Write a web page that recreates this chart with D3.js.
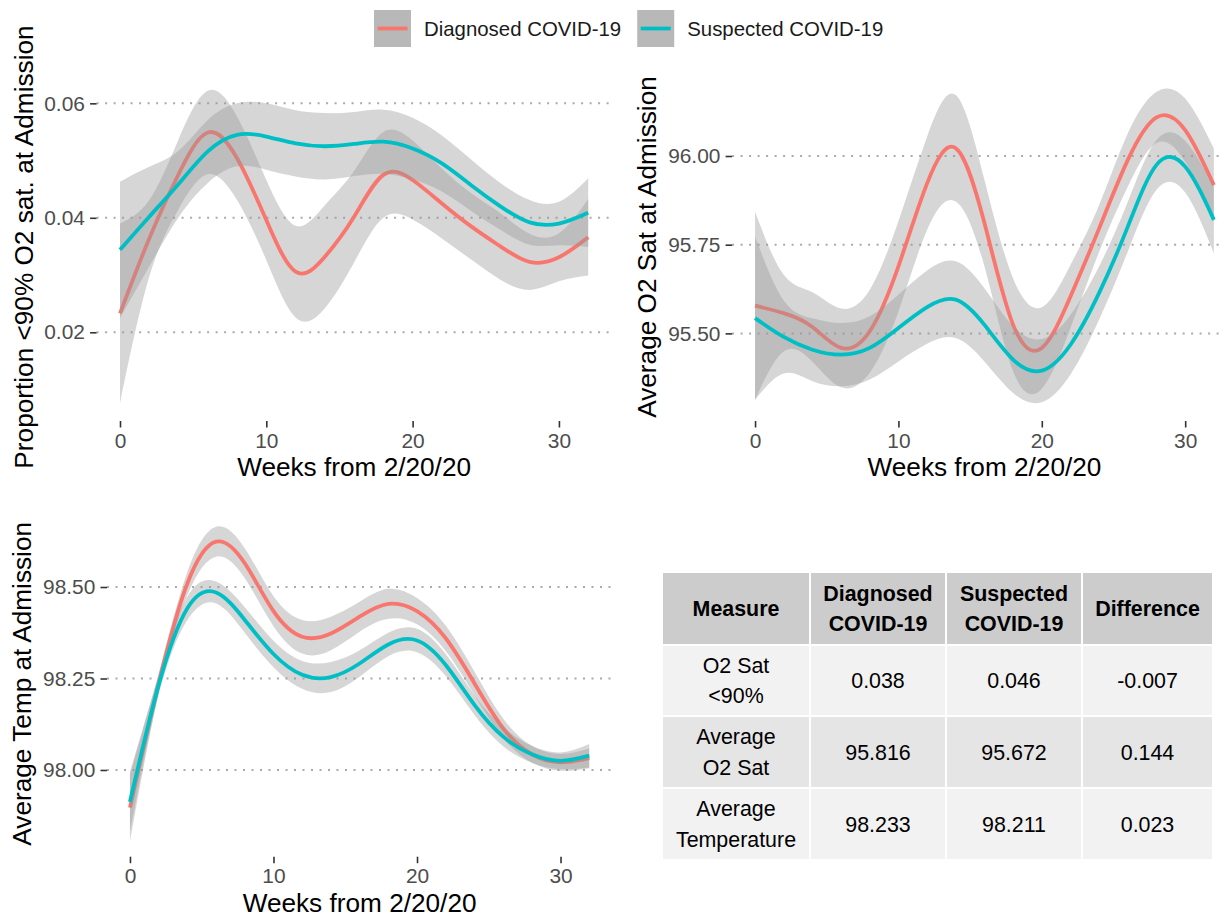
<!DOCTYPE html>
<html>
<head>
<meta charset="utf-8">
<script src="https://cdn.jsdelivr.net/npm/d3@7"></script>
<style>
  body { margin: 0; background: #fff; }
  svg { display: block; font-family: "Liberation Sans", Arial, sans-serif; }
</style>
</head>
<body>
<svg width="1225" height="922"></svg>
<script>
// ---- data (every 2 weeks) ----
var weeks = [0, 2, 4, 6, 8, 10, 12, 14, 16, 18, 20, 22, 24, 26, 28, 30, 32];
var groups = ["Diagnosed COVID-19", "Suspected COVID-19"];
var colors = ["#F8766D", "#00BFC4"];

// proportion <90% O2 sat
var lowO2Diagnosed   = [0.0233, 0.0364, 0.0476, 0.0549, 0.0504, 0.0396, 0.0306, 0.0332, 0.0402, 0.0475, 0.0466, 0.0425, 0.0385, 0.0350, 0.0323, 0.0331, 0.0366];
var lowO2DiagnosedCI = [0.0157, 0.0067, 0.0061, 0.0073, 0.0073, 0.0070, 0.0080, 0.0090, 0.0080, 0.0075, 0.0069, 0.0061, 0.0058, 0.0058, 0.0049, 0.0042, 0.0067];
var lowO2Suspected   = [0.0344, 0.0402, 0.0459, 0.0516, 0.0545, 0.0542, 0.0530, 0.0525, 0.0529, 0.0533, 0.0521, 0.0495, 0.0457, 0.0420, 0.0392, 0.0390, 0.0409];
var lowO2SuspectedCI = [0.0119, 0.0087, 0.0058, 0.0055, 0.0055, 0.0058, 0.0058, 0.0058, 0.0056, 0.0056, 0.0054, 0.0049, 0.0045, 0.0041, 0.0039, 0.0038, 0.0060];

// average O2 sat
var avgO2Diagnosed   = [95.578, 95.557, 95.518, 95.459, 95.506, 95.689, 95.923, 96.022, 95.811, 95.524, 95.459, 95.604, 95.796, 95.989, 96.109, 96.073, 95.918];
var avgO2DiagnosedCI = [0.265, 0.108, 0.098, 0.111, 0.117, 0.127, 0.131, 0.150, 0.122, 0.131, 0.115, 0.089, 0.066, 0.075, 0.072, 0.089, 0.103];
var avgO2Suspected   = [95.543, 95.490, 95.454, 95.440, 95.459, 95.515, 95.574, 95.595, 95.524, 95.426, 95.395, 95.468, 95.614, 95.801, 95.975, 95.970, 95.820];
var avgO2SuspectedCI = [0.230, 0.103, 0.089, 0.089, 0.089, 0.094, 0.103, 0.108, 0.103, 0.094, 0.089, 0.084, 0.075, 0.070, 0.070, 0.073, 0.094];

// average temperature
var tempDiagnosed   = [97.897, 98.237, 98.510, 98.624, 98.565, 98.434, 98.364, 98.373, 98.419, 98.454, 98.434, 98.360, 98.237, 98.114, 98.043, 98.021, 98.032];
var tempDiagnosedCI = [0.091, 0.027, 0.032, 0.041, 0.041, 0.041, 0.046, 0.046, 0.041, 0.041, 0.036, 0.035, 0.032, 0.027, 0.023, 0.023, 0.027];
var tempSuspected   = [97.913, 98.232, 98.442, 98.485, 98.410, 98.317, 98.260, 98.254, 98.291, 98.343, 98.354, 98.287, 98.178, 98.091, 98.043, 98.025, 98.039];
var tempSuspectedCI = [0.082, 0.027, 0.032, 0.030, 0.035, 0.036, 0.038, 0.041, 0.036, 0.032, 0.032, 0.030, 0.027, 0.026, 0.023, 0.023, 0.032];

var xTicks = [0, 10, 20, 30];
var lowO2Ticks = [0.02, 0.04, 0.06];
var avgO2Ticks = [95.50, 95.75, 96.00];
var tempTicks = [98.00, 98.25, 98.50];

// summary table
var tableColumns = ["Measure", "Diagnosed\nCOVID-19", "Suspected\nCOVID-19", "Difference"];
var tableMeasures = ["O2 Sat\n<90%", "Average\nO2 Sat", "Average\nTemperature"];
var tableDiagnosed = ["0.038", "95.816", "98.233"];
var tableSuspected = ["0.046", "95.672", "98.211"];
var tableDifference = ["-0.007", "0.144", "0.023"];

var svg = d3.select("svg");
var tickSize = 20.9, titleSize = 26.2;

var panels = [
  { xr: [96.6, 611.6], yr: [421, 73], yd: [0.0045, 0.0653], ticks: lowO2Ticks,
    series: [[lowO2Diagnosed, lowO2DiagnosedCI], [lowO2Suspected, lowO2SuspectedCI]],
    yTitle: "Proportion <90% O2 sat. at Admission", yTitleX: 32.5, xTitleY: 476 },
  { xr: [732.1, 1236.8], yr: [421, 73], yd: [95.253, 96.234], ticks: avgO2Ticks,
    series: [[avgO2Diagnosed, avgO2DiagnosedCI], [avgO2Suspected, avgO2SuspectedCI]],
    yTitle: "Average O2 Sat at Admission", yTitleX: 656, xTitleY: 476 },
  { xr: [107.0, 612.2], yr: [856.7, 510.9], yd: [97.763, 98.708], ticks: tempTicks,
    series: [[tempDiagnosed, tempDiagnosedCI], [tempSuspected, tempSuspectedCI]],
    yTitle: "Average Temp at Admission", yTitleX: 31, xTitleY: 912 }
];

panels.forEach(function (p) {
  var x = d3.scaleLinear().domain([-1.6, 33.6]).range(p.xr);
  var y = d3.scaleLinear().domain(p.yd).range(p.yr);
  var g = svg.append("g");

  // dotted horizontal grid
  g.selectAll(".grid")
    .data(p.ticks)
    .enter().append("line")
    .attr("x1", p.xr[0]).attr("x2", p.xr[1])
    .attr("y1", function (d) { return y(d); })
    .attr("y2", function (d) { return y(d); })
    .attr("stroke", "#a9a9a9")
    .attr("stroke-width", 2)
    .attr("stroke-dasharray", "2,6.5");

  // ribbon then line, group by group (like geom_smooth)
  p.series.forEach(function (s, i) {
    var pts = weeks.map(function (w, k) { return { w: w, m: s[0][k], ci: s[1][k] }; });
    var area = d3.area()
      .x(function (d) { return x(d.w); })
      .y0(function (d) { return y(d.m - d.ci); })
      .y1(function (d) { return y(d.m + d.ci); })
      .curve(d3.curveNatural);
    var line = d3.line()
      .x(function (d) { return x(d.w); })
      .y(function (d) { return y(d.m); })
      .curve(d3.curveNatural);
    g.append("path").datum(pts)
      .attr("d", area)
      .attr("fill", "#999999")
      .attr("fill-opacity", 0.4);
    g.append("path").datum(pts)
      .attr("d", line)
      .attr("fill", "none")
      .attr("stroke", colors[i])
      .attr("stroke-width", 3.8);
  });

  // axes
  var yAxis = d3.axisLeft(y).tickValues(p.ticks).tickFormat(d3.format(".2f"))
    .tickSize(6.5).tickPadding(5.2);
  var xAxis = d3.axisBottom(x).tickValues(xTicks).tickFormat(d3.format("d"))
    .tickSize(6.5).tickPadding(5.2);

  var ya = g.append("g").attr("transform", "translate(" + p.xr[0] + ",0)").call(yAxis);
  var xa = g.append("g").attr("transform", "translate(0," + p.yr[0] + ")").call(xAxis);
  [ya, xa].forEach(function (a) {
    a.select(".domain").remove();
    a.attr("font-family", null).attr("font-size", null);
    a.selectAll("line").attr("stroke", "#333333").attr("stroke-width", 1.6);
    a.selectAll("text").attr("fill", "#4d4d4d").style("font-size", tickSize + "px");
  });

  // titles
  g.append("text")
    .attr("x", (p.xr[0] + p.xr[1]) / 2)
    .attr("y", p.xTitleY)
    .attr("text-anchor", "middle")
    .style("font-size", titleSize + "px")
    .text("Weeks from 2/20/20");
  g.append("text")
    .attr("transform", "translate(" + p.yTitleX + "," + (p.yr[0] + p.yr[1]) / 2 + ") rotate(-90)")
    .attr("text-anchor", "middle")
    .style("font-size", titleSize + "px")
    .text(p.yTitle);
});

// legend
var lx = 374;
groups.forEach(function (name, i) {
  svg.append("rect")
    .attr("x", lx).attr("y", 10)
    .attr("width", 37).attr("height", 37)
    .attr("fill", "#b8b8b8");
  svg.append("line")
    .attr("x1", lx + 3.5).attr("x2", lx + 33.5)
    .attr("y1", 28.5).attr("y2", 28.5)
    .attr("stroke", colors[i])
    .attr("stroke-width", 3.8);
  var t = svg.append("text")
    .attr("x", lx + 50).attr("y", 36)
    .style("font-size", "20.4px")
    .attr("fill", "#1a1a1a")
    .text(name);
  lx = lx + 50 + t.node().getComputedTextLength() + 16;
});

// table
var colEdges = [662, 810, 946, 1082, 1213];
var rowEdges = [572, 645, 716, 788, 860];
var rowFills = ["#cccccc", "#f2f2f2", "#e5e5e5", "#f2f2f2"];
var rows = [tableColumns];
tableMeasures.forEach(function (m, i) {
  rows.push([m, tableDiagnosed[i], tableSuspected[i], tableDifference[i]]);
});
var fs = 21.4, lh = 30.5;
var tg = svg.append("g");
rows.forEach(function (r, ri) {
  r.forEach(function (cell, ci) {
    var x0 = colEdges[ci], x1 = colEdges[ci + 1];
    var y0 = rowEdges[ri], y1 = rowEdges[ri + 1];
    tg.append("rect")
      .attr("x", x0 + 1).attr("y", y0 + 1)
      .attr("width", x1 - x0 - 2).attr("height", y1 - y0 - 2)
      .attr("fill", rowFills[ri]);
    var lines = cell.split("\n");
    var cy = (y0 + y1) / 2;
    lines.forEach(function (ln, k) {
      tg.append("text")
        .attr("x", (x0 + x1) / 2)
        .attr("y", cy + (k - (lines.length - 1) / 2) * lh + 0.36 * fs)
        .attr("text-anchor", "middle")
        .style("font-size", fs + "px")
        .style("font-weight", ri === 0 ? "bold" : "normal")
        .attr("fill", "#000")
        .text(ln);
    });
  });
});
</script>
</body>
</html>
